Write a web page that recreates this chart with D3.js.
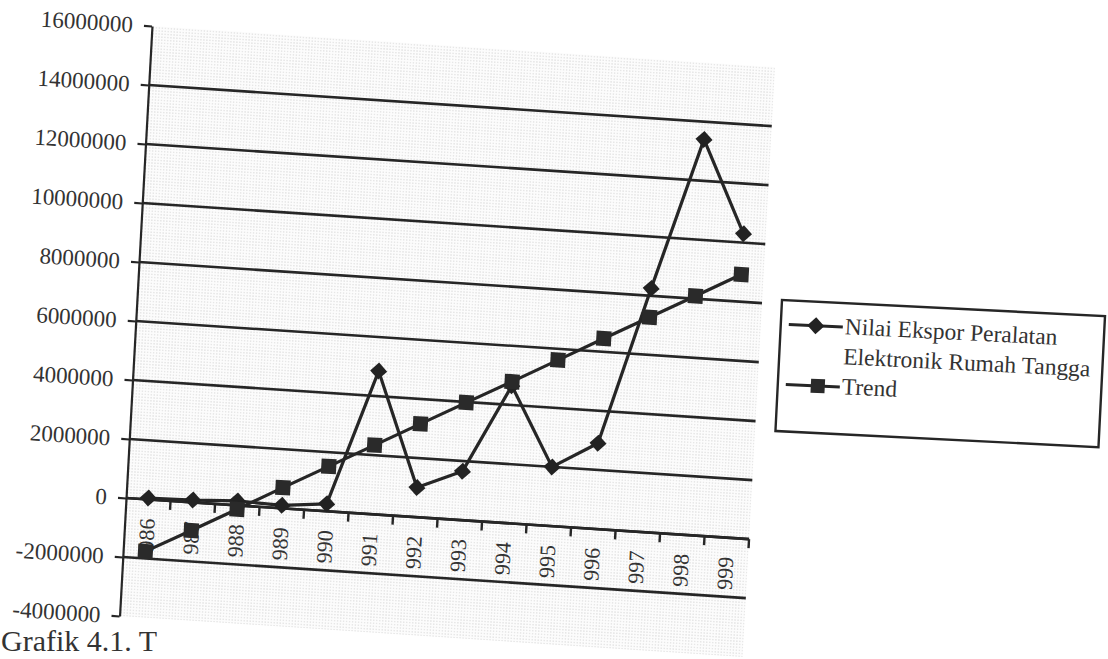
<!DOCTYPE html>
<html>
<head>
<meta charset="utf-8">
<script src="https://cdn.jsdelivr.net/npm/d3@7"></script>
<style>
  body { margin: 0; background: #fff; }
  svg { display: block; font-family: "Liberation Serif", "DejaVu Serif", serif; }
</style>
</head>
<body>
<div id="chart"></div>
<script>
// categories as printed on the axis (leading "1" is cut off in the original)
var years = ["986","987","988","989","990","991","992","993","994","995","996","997","998","999"];

// Nilai Ekspor Peralatan Elektronik Rumah Tangga
var eksporValues = [50000, 80000, 150000, 100000, 250000, 4850000, 1000000, 1650000,
                    4650000, 2000000, 2900000, 8250000, 13400000, 10300000];

// Trend
var trendValues = [-1760000, -950000, -130000, 700000, 1520000, 2340000, 3160000, 3980000,
                   4790000, 5620000, 6450000, 7270000, 8090000, 8920000];

var yTicks = [16000000, 14000000, 12000000, 10000000, 8000000, 6000000, 4000000,
              2000000, 0, -2000000, -4000000];
var gridValues = [14000000, 12000000, 10000000, 8000000, 6000000, 4000000, 2000000, 0, -2000000];

var legendLabels = [["Nilai Ekspor Peralatan", "Elektronik Rumah Tangga"], ["Trend"]];

var width = 1108, height = 659;
var plotW = 623, plotH = 590;
var ink = "#262626";

var svg = d3.select("#chart").append("svg")
            .attr("width", width).attr("height", height);

var defs = svg.append("defs");
var pat = defs.append("pattern")
              .attr("id", "dots")
              .attr("patternUnits", "userSpaceOnUse")
              .attr("width", 3).attr("height", 3);
pat.append("rect").attr("width", 3).attr("height", 3).attr("fill", "#fcfcfc");
pat.append("circle").attr("cx", 1.5).attr("cy", 1.5).attr("r", 0.5).attr("fill", "#c2c2c2");

// the scanned page is slightly rotated / sheared
var g = svg.append("g")
           .attr("transform", "matrix(1,0.066,-0.055,1,152,26)");

var x = d3.scaleBand().domain(years).range([0, plotW]);
var y = d3.scaleLinear().domain([-4000000, 16000000]).range([plotH, 0]);

g.append("rect")
 .attr("x", 0).attr("y", 0)
 .attr("width", plotW).attr("height", plotH)
 .attr("fill", "url(#dots)");

// gridlines
g.selectAll("line.grid")
 .data(gridValues)
 .enter().append("line")
   .attr("class", "grid")
   .attr("x1", 0).attr("x2", plotW)
   .attr("y1", function(d) { return y(d); })
   .attr("y2", function(d) { return y(d); })
   .attr("stroke", ink)
   .attr("stroke-width", 2.6);

// value axis
var yAxis = d3.axisLeft(y)
              .tickValues(yTicks)
              .tickSize(8)
              .tickSizeOuter(0)
              .tickPadding(11)
              .tickFormat(function(d) { return String(d); });
var ya = g.append("g").call(yAxis);
ya.select(".domain").attr("stroke", ink).attr("stroke-width", 2.2);
ya.selectAll(".tick line").attr("stroke", ink).attr("stroke-width", 2.2);
ya.selectAll(".tick text")
  .attr("font-size", 23)
  .attr("font-family", "Liberation Serif, serif")
  .attr("fill", "#333");

// category axis at zero
var y0 = y(0);
g.append("line")
 .attr("x1", 0).attr("x2", plotW)
 .attr("y1", y0).attr("y2", y0)
 .attr("stroke", ink).attr("stroke-width", 2.6);

var boundaries = years.map(function(d) { return x(d); }).concat([x.range()[1]]);
g.selectAll("line.xtick")
 .data(boundaries.slice(1))
 .enter().append("line")
   .attr("class", "xtick")
   .attr("x1", function(d) { return d; })
   .attr("x2", function(d) { return d; })
   .attr("y1", y0).attr("y2", y0 + 9)
   .attr("stroke", ink).attr("stroke-width", 2.4);

g.selectAll("text.xlab")
 .data(years)
 .enter().append("text")
   .attr("class", "xlab")
   .attr("transform", function(d) {
     return "translate(" + (x(d) + x.bandwidth() / 2) + "," + (y0 + 19) + ") rotate(-90)";
   })
   .attr("text-anchor", "end")
   .attr("dy", "0.35em")
   .attr("font-size", 22)
   .attr("fill", "#333")
   .text(function(d) { return d; });

// series
var line = d3.line()
             .x(function(d, i) { return x(years[i]) + x.bandwidth() / 2; })
             .y(function(d) { return y(d); });

var diamond = "M0,-8.5L8.5,0L0,8.5L-8.5,0Z";

g.append("path")
 .datum(eksporValues)
 .attr("d", line)
 .attr("fill", "none")
 .attr("stroke", ink)
 .attr("stroke-width", 3.2)
 .attr("stroke-linejoin", "round");

g.selectAll("path.dia")
 .data(eksporValues)
 .enter().append("path")
   .attr("class", "dia")
   .attr("d", diamond)
   .attr("transform", function(d, i) {
     return "translate(" + (x(years[i]) + x.bandwidth() / 2) + "," + y(d) + ")";
   })
   .attr("fill", "#222");

g.append("path")
 .datum(trendValues)
 .attr("d", line)
 .attr("fill", "none")
 .attr("stroke", ink)
 .attr("stroke-width", 3.2)
 .attr("stroke-linejoin", "round");

g.selectAll("rect.sq")
 .data(trendValues)
 .enter().append("rect")
   .attr("class", "sq")
   .attr("x", function(d, i) { return x(years[i]) + x.bandwidth() / 2 - 7.5; })
   .attr("y", function(d) { return y(d) - 7.5; })
   .attr("width", 15).attr("height", 15)
   .attr("fill", "#2a2a2a");

// legend
var lg = svg.append("g")
            .attr("transform", "matrix(1,0.05,-0.05,1,782,300)");
lg.append("rect")
  .attr("x", 0).attr("y", 0)
  .attr("width", 323).attr("height", 131)
  .attr("fill", "#fff")
  .attr("stroke", ink)
  .attr("stroke-width", 2.4);

lg.append("line").attr("x1", 8).attr("x2", 62).attr("y1", 24).attr("y2", 24)
  .attr("stroke", ink).attr("stroke-width", 3);
lg.append("path").attr("d", diamond).attr("transform", "translate(35,24)").attr("fill", "#222");
lg.append("line").attr("x1", 8).attr("x2", 62).attr("y1", 84).attr("y2", 84)
  .attr("stroke", ink).attr("stroke-width", 3);
lg.append("rect").attr("x", 33).attr("y", 77).attr("width", 14).attr("height", 14).attr("fill", "#2a2a2a");

var lt = lg.append("text")
           .attr("font-size", 23.5)
           .attr("fill", "#333");
lt.append("tspan").attr("x", 64).attr("y", 31).text(legendLabels[0][0]);
lt.append("tspan").attr("x", 64).attr("y", 61).text(legendLabels[0][1]);
lg.append("text")
  .attr("x", 64).attr("y", 91)
  .attr("font-size", 23.5)
  .attr("fill", "#333")
  .text(legendLabels[1][0]);

// caption at the bottom of the scan
svg.append("text")
   .attr("x", 1).attr("y", 651)
   .attr("font-size", 30)
   .attr("fill", "#333")
   .text("Grafik 4.1. T");
</script>
</body>
</html>
